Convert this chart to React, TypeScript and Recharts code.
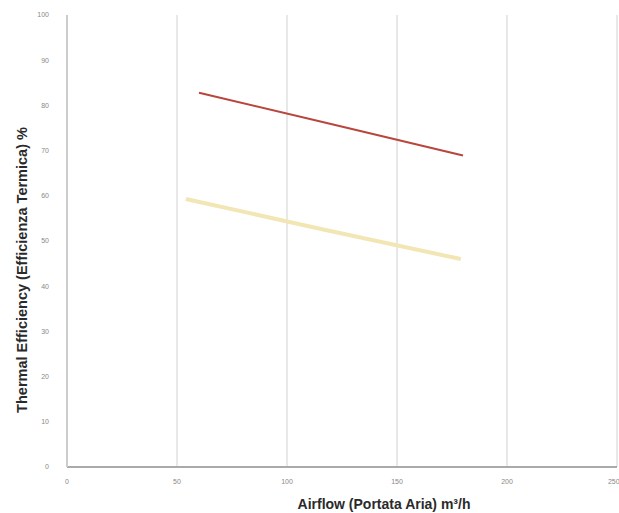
import React from "react";
import { LineChart, Line, XAxis, YAxis, CartesianGrid } from "recharts";

const redAirflow = [60, 120, 180];
const redEfficiency = [82.8, 75.9, 68.9];
const yellowAirflow = [54, 116, 179];
const yellowEfficiency = [59.3, 52.6, 46];

const xTicks = [0, 50, 100, 150, 200, 250];
const yTicks = [0, 10, 20, 30, 40, 50, 60, 70, 80, 90, 100];

const redData = redAirflow.map((x, i) => ({ x, y: redEfficiency[i] }));
const yellowData = yellowAirflow.map((x, i) => ({ x, y: yellowEfficiency[i] }));

export default function App() {
  return (
    <div style={{ position: "absolute", left: 0, top: 0, width: 619, height: 513, background: "#fff" }}>
      <LineChart
        width={619}
        height={513}
        margin={{ top: 15, right: 2, left: 0, bottom: 0 }}
        style={{ fontFamily: "Liberation Sans, Arial, sans-serif" }}
      >
        <CartesianGrid horizontal={false} stroke="#e8e8e8" strokeWidth={2} />
        <XAxis
          type="number"
          dataKey="x"
          domain={[0, 250]}
          ticks={xTicks}
          stroke="#aaa"
          strokeWidth={2}
          tickLine={false}
          tick={{ fontSize: 7, fill: "#888" }}
          tickMargin={6}
          height={46}
          allowDuplicatedCategory={false}
          label={{
            value: "Airflow (Portata Aria) m\u00b3/h",
            position: "insideBottom",
            offset: 4,
            dx: 42,
            style: { fontSize: 14, fill: "#2a2a2a", fontWeight: "bold" },
          }}
        />
        <YAxis
          type="number"
          dataKey="y"
          domain={[0, 100]}
          ticks={yTicks}
          stroke="#ccc"
          strokeWidth={2}
          tickLine={false}
          tick={{ fontSize: 7, fill: "#888" }}
          tickMargin={12}
          width={67}
          label={{
            value: "Thermal Efficiency (Efficienza Termica) %",
            angle: -90,
            position: "insideLeft",
            offset: 22,
            dy: 29,
            style: { fontSize: 14.5, fill: "#2a2a2a", fontWeight: "bold", textAnchor: "middle" },
          }}
        />
        <Line
          data={redData}
          dataKey="y"
          type="linear"
          stroke="#b8463c"
          strokeWidth={2}
          dot={false}
          isAnimationActive={false}
        />
        <Line
          data={yellowData}
          dataKey="y"
          type="linear"
          stroke="#f3e6b5"
          strokeWidth={4}
          dot={false}
          isAnimationActive={false}
        />
      </LineChart>
    </div>
  );
}
